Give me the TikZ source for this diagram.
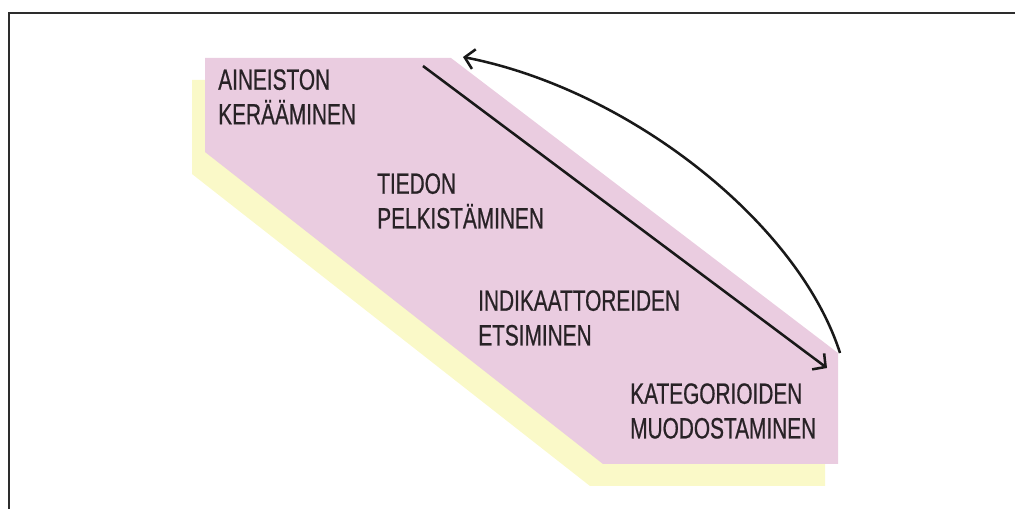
\documentclass[tikz,border=0pt]{standalone}
\usepackage{fontspec}
\setmainfont{Liberation Sans}[FakeStretch=0.71,FakeBold=0.6]
\usetikzlibrary{arrows.meta}
\definecolor{pinkfill}{RGB}{234,204,224}
\definecolor{yellowfill}{RGB}{250,249,200}
\definecolor{framecol}{RGB}{45,45,45}
\definecolor{txtcol}{RGB}{40,34,38}
\tikzset{
  lbl/.style={anchor=north west, inner sep=0pt, align=left, text=txtcol,
    font=\fontsize{22}{26}\selectfont},
  flowarrow/.style={line width=1.9pt, draw=black!90,
    -{Straight Barb[length=7pt,width=15pt,line width=1.9pt]}},
}
\begin{document}
\begin{tikzpicture}[x=0.75pt,y=-0.75pt]
\useasboundingbox (0,0) rectangle (1015,509);
% frame
\draw[framecol, line width=2.2pt] (9,509) -- (9,13) -- (1015,13);
% shadow shape
\fill[yellowfill] (192,80) -- (438,80) -- (825,375) -- (825,486) -- (590,486) -- (192,174) -- cycle;
% main shape
\fill[pinkfill] (205,58) -- (451,58) -- (838,353) -- (838,464) -- (603,464) -- (205,152) -- cycle;
% texts
\node[lbl] (t1) at (218,69) {AINEISTON\\KERÄÄMINEN};
\node[lbl] (t2) at (377,173) {TIEDON\\PELKISTÄMINEN};
\node[lbl] (t3) at (478,290) {INDIKAATTOREIDEN\\ETSIMINEN};
\node[lbl] (t4) at (630,383) {KATEGORIOIDEN\\MUODOSTAMINEN};
% arrows
\coordinate (s1) at (423,66);
\coordinate (e1) at (827,368);
\coordinate (s2) at (840,353);
\coordinate (e2) at (463,57);
\draw[flowarrow] (s1) -- (e1);
\draw[flowarrow] (s2) .. controls (798,222) and (628,89) .. (e2);
\end{tikzpicture}
\end{document}
